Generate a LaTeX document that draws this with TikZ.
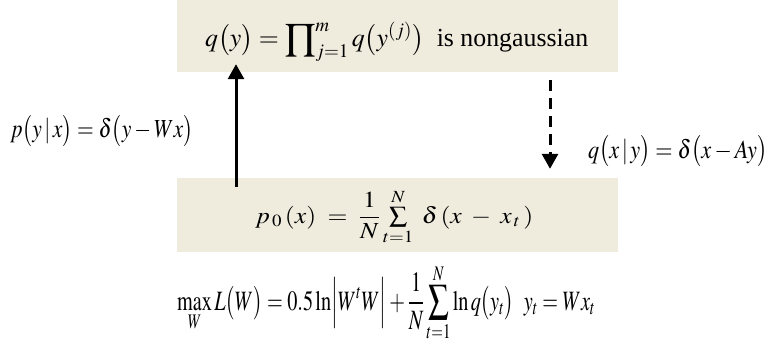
\documentclass[tikz,border=0pt]{standalone}
\usepackage{amsmath}
\usepackage{graphicx}
\usepackage{mathptmx}
\usepackage{fontspec}
\setmainfont{Liberation Serif}
\usetikzlibrary{arrows.meta}
\definecolor{boxfill}{RGB}{239,236,222}
\tikzset{
  fbox/.style={draw=none,fill=boxfill,minimum width=441pt,inner sep=0pt},
  conn/.style={line width=3pt,-{Triangle[width=16pt,length=15pt]}},
  dconn/.style={conn,dash pattern=on 11pt off 7pt},
  lbl/.style={inner sep=0pt,anchor=base west}
}
\begin{document}
\begin{tikzpicture}[x=1pt,y=-1pt]
\useasboundingbox (0,0) rectangle (769,353);
\node[fbox,minimum height=72pt] (top) at (397.5,36) {};
\node[lbl] (toptxt) at (205,47) {\resizebox{383pt}{\height}{\fontsize{26}{30}\selectfont $q\bigl(y\bigr)=\displaystyle\prod\nolimits_{j=1}^{m} q\bigl(y^{(j)}\bigr)$\ \ is nongaussian}};
\node[fbox,minimum height=74pt] (bot) at (397.5,215) {};
\node[lbl] (bottxt) at (255,223) {\resizebox{278pt}{\height}{\fontsize{23}{27}\selectfont $p_{\,0}\,(x)\;=\;\dfrac{1}{N}\sum\limits_{t=1}^{N}\;\delta\,(x\;-\;x_{\,t}\,)$}};
\coordinate (ux) at (236,0);
\coordinate (dx) at (550,0);
\draw[conn] ([yshift=-9pt]bot.north -| ux) -- ([yshift=8pt]top.south -| ux);
\draw[dconn] ([yshift=-8pt]top.south -| dx) -- ([yshift=9pt]bot.north -| dx);
\node[lbl] (left) at (10,138) {\resizebox{183pt}{\height}{\fontsize{26}{30}\selectfont $p\bigl(y\,|\,x\bigr)=\delta\bigl(y-Wx\bigr)$}};
\node[lbl] (right) at (588,158) {\resizebox{179pt}{\height}{\fontsize{26}{30}\selectfont $q\bigl(x\,|\,y\bigr)=\delta\bigl(x-Ay\bigr)$}};
\node[lbl] (eq) at (177,310) {\resizebox{418pt}{\height}{\fontsize{28}{32}\selectfont $\displaystyle\max_{W} L\bigl(W\bigr)=0.5\ln\Bigl|W^{t}W\Bigr|+\frac{1}{N}\sum_{t=1}^{N}\ln q\bigl(y_{t}\bigr)\ \ y_{t}=Wx_{t}$}};
\end{tikzpicture}
\end{document}
